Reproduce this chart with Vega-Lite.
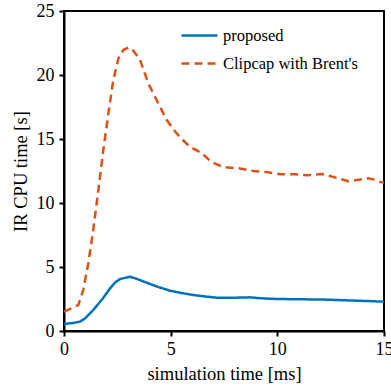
{
  "$schema": "https://vega.github.io/schema/vega-lite/v6.json",
  "autosize": {"type": "none"},
  "width": 320,
  "height": 320,
  "padding": {"left": 64, "top": 11, "right": 7, "bottom": 58},
  "background": "white",
  "config": {
    "view": {"stroke": "#000000", "strokeWidth": 2},
    "font": "Liberation Serif"
  },
  "data": {
    "values": [
      {"t": 0.0, "v": 0.55, "s": "proposed"},
      {"t": 0.4, "v": 0.62, "s": "proposed"},
      {"t": 0.75, "v": 0.73, "s": "proposed"},
      {"t": 1.0, "v": 1.0, "s": "proposed"},
      {"t": 1.37, "v": 1.64, "s": "proposed"},
      {"t": 1.8, "v": 2.5, "s": "proposed"},
      {"t": 2.16, "v": 3.33, "s": "proposed"},
      {"t": 2.4, "v": 3.8, "s": "proposed"},
      {"t": 2.63, "v": 4.06, "s": "proposed"},
      {"t": 2.85, "v": 4.15, "s": "proposed"},
      {"t": 3.09, "v": 4.24, "s": "proposed"},
      {"t": 3.4, "v": 4.08, "s": "proposed"},
      {"t": 3.88, "v": 3.77, "s": "proposed"},
      {"t": 4.4, "v": 3.45, "s": "proposed"},
      {"t": 4.97, "v": 3.15, "s": "proposed"},
      {"t": 5.5, "v": 2.97, "s": "proposed"},
      {"t": 6.06, "v": 2.81, "s": "proposed"},
      {"t": 6.6, "v": 2.7, "s": "proposed"},
      {"t": 7.16, "v": 2.6, "s": "proposed"},
      {"t": 8.0, "v": 2.6, "s": "proposed"},
      {"t": 8.72, "v": 2.63, "s": "proposed"},
      {"t": 9.3, "v": 2.55, "s": "proposed"},
      {"t": 9.97, "v": 2.5, "s": "proposed"},
      {"t": 11.0, "v": 2.48, "s": "proposed"},
      {"t": 12.3, "v": 2.45, "s": "proposed"},
      {"t": 13.5, "v": 2.38, "s": "proposed"},
      {"t": 14.4, "v": 2.33, "s": "proposed"},
      {"t": 15.0, "v": 2.29, "s": "proposed"},
      {"t": 0.0, "v": 1.51, "s": "Clipcap with Brent's"},
      {"t": 0.67, "v": 2.03, "s": "Clipcap with Brent's"},
      {"t": 0.9, "v": 3.2, "s": "Clipcap with Brent's"},
      {"t": 1.14, "v": 5.29, "s": "Clipcap with Brent's"},
      {"t": 1.37, "v": 7.9, "s": "Clipcap with Brent's"},
      {"t": 1.61, "v": 11.0, "s": "Clipcap with Brent's"},
      {"t": 1.84, "v": 14.1, "s": "Clipcap with Brent's"},
      {"t": 2.08, "v": 17.0, "s": "Clipcap with Brent's"},
      {"t": 2.31, "v": 19.6, "s": "Clipcap with Brent's"},
      {"t": 2.55, "v": 21.3, "s": "Clipcap with Brent's"},
      {"t": 2.78, "v": 21.95, "s": "Clipcap with Brent's"},
      {"t": 3.02, "v": 22.16, "s": "Clipcap with Brent's"},
      {"t": 3.25, "v": 21.9, "s": "Clipcap with Brent's"},
      {"t": 3.56, "v": 21.2, "s": "Clipcap with Brent's"},
      {"t": 3.95, "v": 19.35, "s": "Clipcap with Brent's"},
      {"t": 4.34, "v": 18.05, "s": "Clipcap with Brent's"},
      {"t": 4.81, "v": 16.5, "s": "Clipcap with Brent's"},
      {"t": 5.2, "v": 15.6, "s": "Clipcap with Brent's"},
      {"t": 5.52, "v": 15.0, "s": "Clipcap with Brent's"},
      {"t": 5.9, "v": 14.4, "s": "Clipcap with Brent's"},
      {"t": 6.45, "v": 13.9, "s": "Clipcap with Brent's"},
      {"t": 6.92, "v": 13.2, "s": "Clipcap with Brent's"},
      {"t": 7.47, "v": 12.8, "s": "Clipcap with Brent's"},
      {"t": 8.25, "v": 12.7, "s": "Clipcap with Brent's"},
      {"t": 8.88, "v": 12.5, "s": "Clipcap with Brent's"},
      {"t": 9.58, "v": 12.4, "s": "Clipcap with Brent's"},
      {"t": 10.13, "v": 12.24, "s": "Clipcap with Brent's"},
      {"t": 10.83, "v": 12.24, "s": "Clipcap with Brent's"},
      {"t": 11.45, "v": 12.16, "s": "Clipcap with Brent's"},
      {"t": 12.08, "v": 12.27, "s": "Clipcap with Brent's"},
      {"t": 12.7, "v": 12.0, "s": "Clipcap with Brent's"},
      {"t": 13.33, "v": 11.7, "s": "Clipcap with Brent's"},
      {"t": 13.95, "v": 11.85, "s": "Clipcap with Brent's"},
      {"t": 14.27, "v": 11.93, "s": "Clipcap with Brent's"},
      {"t": 14.5, "v": 11.85, "s": "Clipcap with Brent's"},
      {"t": 14.73, "v": 11.66, "s": "Clipcap with Brent's"},
      {"t": 15.0, "v": 11.6, "s": "Clipcap with Brent's"}
    ]
  },
  "mark": {"type": "line", "strokeWidth": 2.5},
  "encoding": {
    "x": {"field": "t", "type": "quantitative", "title": "simulation time [ms]",
          "scale": {"domain": [0, 15], "nice": false},
          "axis": {"orient": "bottom", "values": [0, 5, 10, 15], "grid": false,
                   "domainColor": "#000000", "domainWidth": 2, "tickColor": "#000000", "tickWidth": 2, "tickSize": 5,
                   "labelFont": "Liberation Serif", "labelFontSize": 18, "labelColor": "black",
                   "labelOverlap": false, "labelBound": false, "labelFlush": false,
                   "titleFont": "Liberation Serif", "titleFontSize": 18.5, "titleFontWeight": "normal", "titleColor": "black",
                   "labelPadding": 4, "titlePadding": 6}},
    "y": {"field": "v", "type": "quantitative", "title": "IR CPU time [s]",
          "scale": {"domain": [0, 25], "nice": false},
          "axis": {"orient": "left", "values": [0, 5, 10, 15, 20, 25], "grid": false,
                   "domainColor": "#000000", "domainWidth": 2, "tickColor": "#000000", "tickWidth": 2, "tickSize": 5,
                   "labelFont": "Liberation Serif", "labelFontSize": 18, "labelColor": "black",
                   "labelOverlap": false, "labelBound": false, "labelFlush": false,
                   "titleFont": "Liberation Serif", "titleFontSize": 18.5, "titleFontWeight": "normal", "titleColor": "black",
                   "labelPadding": 5, "titlePadding": 6}},
    "color": {
      "field": "s", "type": "nominal",
      "scale": {"domain": ["proposed", "Clipcap with Brent's"], "range": ["#0072BD", "#D95319"]},
      "legend": {
        "title": null,
        "orient": "none",
        "legendX": 116,
        "legendY": 5,
        "symbolType": "stroke",
        "symbolSize": 1296,
        "symbolStrokeWidth": 2.5,
        "labelFont": "Liberation Serif",
        "labelFontSize": 16.5,
        "labelColor": "black",
        "labelOffset": 4,
        "rowPadding": -8,
        "labelLimit": 300
      }
    },
    "strokeDash": {
      "field": "s", "type": "nominal",
      "scale": {"domain": ["proposed", "Clipcap with Brent's"], "range": [[1, 0], [8, 5]]},
      "legend": null
    }
  }
}
